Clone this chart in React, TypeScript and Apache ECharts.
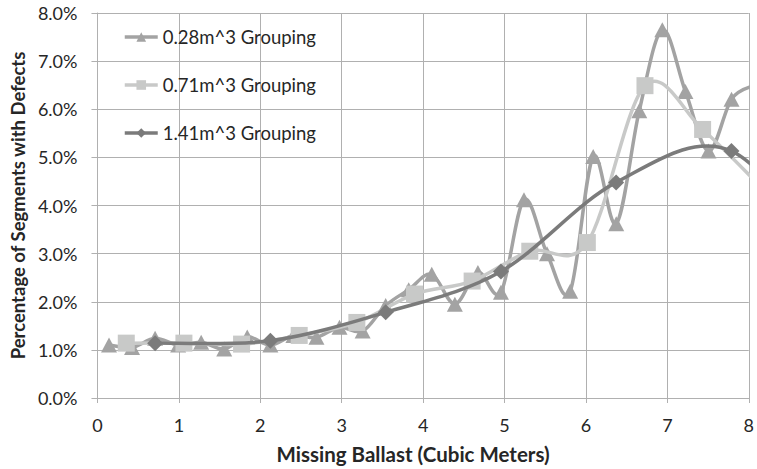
import React, { useEffect, useRef } from "react";
import * as echarts from "echarts";

const seriesNames = ["0.28m^3 Grouping", "0.71m^3 Grouping", "1.41m^3 Grouping"];

// bin mid-points (cubic meters) and percentage of segments with defects
const xSmall = [0.142, 0.425, 0.708, 0.991, 1.274, 1.557, 1.840, 2.124, 2.407, 2.690, 2.973, 3.257, 3.540, 3.823, 4.106, 4.390, 4.673, 4.956, 5.239, 5.522, 5.806, 6.089, 6.372, 6.655, 6.938, 7.222, 7.505, 7.788, 8.071];
const ySmall = [1.10, 1.05, 1.24, 1.10, 1.16, 1.02, 1.27, 1.10, 1.30, 1.26, 1.47, 1.39, 1.92, 2.25, 2.57, 1.95, 2.61, 2.20, 4.12, 3.00, 2.22, 5.02, 3.62, 5.97, 7.65, 6.37, 5.13, 6.21, 6.50];

const xMedium = [0.354, 1.062, 1.770, 2.478, 3.186, 3.894, 4.602, 5.310, 6.017, 6.725, 7.433, 8.141];
const yMedium = [1.14, 1.14, 1.12, 1.30, 1.57, 2.16, 2.43, 3.05, 3.23, 6.49, 5.58, 4.40];

const xLarge = [0.708, 2.124, 3.540, 4.956, 6.371, 7.787, 9.203];
const yLarge = [1.14, 1.19, 1.78, 2.63, 4.48, 5.13, 2.40];

const yTicks = [0, 1, 2, 3, 4, 5, 6, 7, 8];
const xTicks = [0, 1, 2, 3, 4, 5, 6, 7, 8];

const colors = ["#a3a3a3", "#c8c9c8", "#7b7b7b"];
const FONT = "Lato, 'Open Sans', sans-serif";
const TEXT = "#262626";
const LINE_W = 3.5;

function pairs(xs: number[], ys: number[]) {
  return xs.map((x, i) => [x, ys[i]]);
}

// smooth (Catmull-Rom style) segment between point i and i+1, via the axis scales
function segRender(xs: number[], ys: number[], color: string) {
  return (params: any, api: any) => {
    const i = params.dataIndex;
    const n = xs.length;
    if (i >= n - 1) return null;
    const c = (k: number) => {
      const j = Math.max(0, Math.min(n - 1, k));
      return api.coord([xs[j], ys[j]]);
    };
    const p0 = c(i - 1), p1 = c(i), p2 = c(i + 1), p3 = c(i + 2);
    return {
      type: "bezierCurve",
      shape: {
        x1: p1[0], y1: p1[1], x2: p2[0], y2: p2[1],
        cpx1: p1[0] + (p2[0] - p0[0]) / 6, cpy1: p1[1] + (p2[1] - p0[1]) / 6,
        cpx2: p2[0] - (p3[0] - p1[0]) / 6, cpy2: p2[1] - (p3[1] - p1[1]) / 6,
      },
      style: { stroke: color, lineWidth: LINE_W, fill: null, lineCap: "round", lineJoin: "round" },
    };
  };
}

export default function App() {
  const ref = useRef<HTMLDivElement>(null);
  useEffect(() => {
    if (!ref.current) return;
    const chart = echarts.init(ref.current, null, { renderer: "svg" });
    const gridColor = "#b0b0b0";
    const sets: [number[], number[], string, any][] = [
      [xSmall, ySmall, "triangle", [16, 15]],
      [xMedium, yMedium, "rect", 17],
      [xLarge, yLarge, "diamond", 16],
    ];
    const series: any[] = [];
    sets.forEach(([xs, ys, symbol, size], idx) => {
      series.push({
        name: "curve" + idx,
        type: "custom",
        data: pairs(xs, ys),
        encode: { x: 0, y: 1 },
        clip: true,
        renderItem: segRender(xs, ys, colors[idx]),
        z: 2 + idx * 2,
        silent: true,
      });
      series.push({
        name: seriesNames[idx],
        type: "line",
        data: pairs(xs, ys),
        symbol,
        symbolSize: size,
        clip: true,
        lineStyle: { color: colors[idx], width: 0, opacity: 0 },
        itemStyle: { color: colors[idx] },
        z: 3 + idx * 2,
      });
    });
    chart.setOption({
      animation: false,
      backgroundColor: "#ffffff",
      textStyle: { fontFamily: FONT },
      grid: { left: 92, right: 3, top: 13, bottom: 70, containLabel: false },
      legend: {
        orient: "vertical",
        left: 118,
        top: 22,
        itemWidth: 33,
        itemHeight: 12,
        itemGap: 28,
        textStyle: { fontFamily: FONT, fontSize: 18.5, color: TEXT, lineHeight: 20 },
        data: seriesNames.map((name, i) => ({
          name,
          itemStyle: { color: colors[i] },
          lineStyle: { color: colors[i], width: LINE_W, opacity: 1 },
        })),
      },
      xAxis: {
        type: "value",
        min: xTicks[0],
        max: xTicks[xTicks.length - 1],
        interval: 1,
        name: "Missing Ballast (Cubic Meters)",
        nameLocation: "middle",
        nameGap: 45,
        nameTextStyle: {
          fontFamily: FONT, fontSize: 20.5, fontWeight: "bold", color: TEXT,
          padding: [0, 20, 0, 0],
        },
        axisLine: { show: true, lineStyle: { color: gridColor, width: 1 } },
        axisTick: { show: true, length: 5, lineStyle: { color: gridColor } },
        axisLabel: { fontFamily: FONT, fontSize: 18, color: TEXT, margin: 18 },
        splitLine: { show: true, lineStyle: { color: gridColor, width: 1 } },
      },
      yAxis: {
        type: "value",
        min: yTicks[0],
        max: yTicks[yTicks.length - 1],
        interval: 1,
        name: "Percentage of Segments with Defects",
        nameLocation: "middle",
        nameGap: 67,
        nameTextStyle: { fontFamily: FONT, fontSize: 18.5, fontWeight: "bold", color: TEXT },
        axisLine: { show: true, lineStyle: { color: gridColor, width: 1 } },
        axisTick: { show: true, length: 6, lineStyle: { color: gridColor } },
        axisLabel: {
          fontFamily: FONT,
          fontSize: 18,
          color: TEXT,
          margin: 20,
          formatter: (v: number) => `${v.toFixed(1)}%`,
        },
        splitLine: { show: true, lineStyle: { color: gridColor, width: 1 } },
      },
      series,
    });
    return () => chart.dispose();
  }, []);
  return <div ref={ref} style={{ position: "fixed", left: 0, top: 0, width: 757, height: 469 }} />;
}
